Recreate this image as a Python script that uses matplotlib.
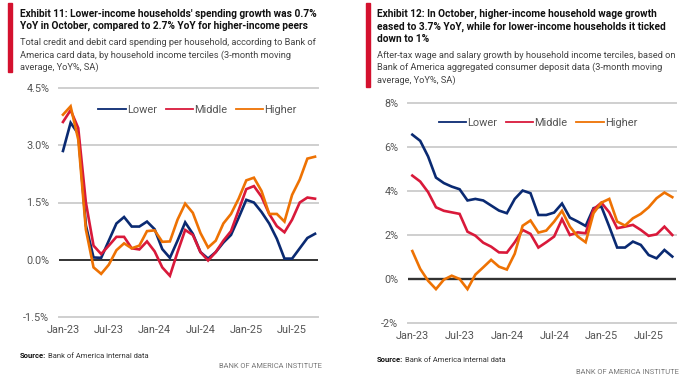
import matplotlib
matplotlib.use("Agg")
import matplotlib.pyplot as plt
from matplotlib.lines import Line2D
from matplotlib.patches import Rectangle

plt.rcParams['font.family'] = ['Roboto', 'DejaVu Sans']

# months Jan-23 .. Oct-25 (34 points)
months = list(range(34))
tick_pos = [0, 6, 12, 18, 24, 30]
tick_labels = ["Jan-23", "Jul-23", "Jan-24", "Jul-24", "Jan-25", "Jul-25"]

# Exhibit 11: card spending growth, YoY %
spend_lower = [2.85, 3.59, 3.30, 0.90, 0.06, 0.05, 0.50, 0.95, 1.12, 0.87, 0.87, 1.00,
               0.80, 0.28, 0.05, 0.50, 0.98, 0.68, 0.20, 0.03, 0.20, 0.45, 0.65, 1.10,
               1.57, 1.50, 1.25, 0.95, 0.55, 0.03, 0.03, 0.30, 0.57, 0.68]
spend_middle = [3.61, 3.92, 3.45, 1.50, 0.37, 0.15, 0.37, 0.60, 0.60, 0.30, 0.27, 0.48,
                0.22, -0.20, -0.42, 0.20, 0.78, 0.65, 0.20, -0.02, 0.20, 0.50, 0.75, 1.30,
                1.85, 1.93, 1.65, 1.20, 0.88, 0.72, 1.05, 1.50, 1.63, 1.60]
spend_higher = [3.80, 4.02, 3.15, 0.79, -0.20, -0.37, -0.13, 0.25, 0.43, 0.30, 0.37, 0.75,
                0.77, 0.47, 0.48, 1.05, 1.47, 1.23, 0.70, 0.32, 0.50, 0.95, 1.20, 1.60,
                2.08, 2.15, 1.80, 1.20, 1.20, 1.00, 1.70, 2.10, 2.65, 2.70]

# Exhibit 12: after-tax wage and salary growth, YoY %
wage_lower = [6.56, 6.28, 5.57, 4.61, 4.36, 4.20, 4.08, 3.57, 3.64, 3.57, 3.34, 3.11,
              2.99, 3.64, 4.02, 3.90, 2.91, 2.91, 3.02, 3.43, 2.79, 2.61, 2.41, 3.22,
              3.29, 2.38, 1.43, 1.43, 1.70, 1.55, 1.09, 0.94, 1.32, 1.02]
wage_middle = [4.70, 4.43, 3.95, 3.26, 3.10, 3.03, 2.96, 2.15, 1.97, 1.65, 1.47, 1.21,
               1.20, 1.67, 2.23, 2.05, 1.43, 1.67, 1.93, 2.72, 2.00, 2.12, 2.08, 3.17,
               3.47, 3.03, 2.31, 2.38, 2.46, 2.23, 1.96, 2.03, 2.38, 2.00]
wage_higher = [1.27, 0.46, -0.08, -0.46, -0.03, 0.15, 0.00, -0.46, 0.20, 0.53, 0.87, 0.56,
               0.43, 1.15, 2.42, 2.66, 2.11, 2.20, 2.61, 3.10, 2.38, 1.93, 1.67, 2.99,
               3.47, 3.64, 2.61, 2.43, 2.76, 2.96, 3.26, 3.67, 3.93, 3.72]

NAVY = "#0a2a72"
RED = "#d9193a"
ORANGE = "#ee7203"
GRID = "#cfcfcf"
TXT = "#555555"

W, H = 688, 378
fig = plt.figure(figsize=(W / 100, H / 100), dpi=100)


def box(x0, y0, x1, y1):
    # pixel box (top-left origin) -> figure fraction rect
    return [x0 / W, 1 - y1 / H, (x1 - x0) / W, (y1 - y0) / H]


def fx(x):
    return x / W


def fy(y):
    return 1 - y / H


def header(xbar, ybar_end, xtxt, title, title_y, sub, sub_y):
    fig.patches.append(Rectangle((fx(xbar), fy(ybar_end)), 4 / W, (ybar_end - 3) / H,
                                 transform=fig.transFigure, color="#d4112e"))
    fig.text(fx(xtxt), fy(title_y), title, fontsize=7.3, fontweight="bold",
             color="#111111", va="center", ha="left", linespacing=1.32)
    fig.text(fx(xtxt), fy(sub_y), sub, fontsize=6.65, color="#444444",
             va="center", ha="left", linespacing=1.38)


def panel(rect, xlim, yticks, ylabels, series, legend_xy, zero_col, zero_lw):
    ax = fig.add_axes(rect)
    ax.set_xlim(*xlim)
    ax.set_ylim(yticks[0], yticks[-1])
    for t in yticks:
        if t == 0:
            continue
        ax.axhline(t, color=GRID, lw=1.4, zorder=0, clip_on=False)
    for vals, col in series:
        ax.plot(months, vals, color=col, lw=1.9, solid_joinstyle="miter", zorder=3)
    ax.axhline(0, color=zero_col, lw=zero_lw, zorder=2)
    ax.set_yticks(yticks)
    ax.set_yticklabels(ylabels)
    ax.set_xticks(tick_pos)
    ax.set_xticklabels(tick_labels)
    ax.tick_params(length=0, labelsize=7.8, colors=TXT, pad=6)
    ax.tick_params(axis="y", pad=7)
    for s in ax.spines.values():
        s.set_visible(False)
    ax.patch.set_alpha(0)
    handles = [Line2D([], [], color=c, lw=1.3) for _, c in series]
    ax.legend(handles, ["Lower", "Middle", "Higher"], loc="center", ncol=3,
              bbox_to_anchor=legend_xy, frameon=False, fontsize=7.9,
              handlelength=2.5, handletextpad=0.1, columnspacing=0.8,
              labelcolor=TXT, borderpad=0)
    return ax


header(8, 72, 20,
       "Exhibit 11: Lower-income households' spending growth was 0.7%\n"
       "YoY in October, compared to 2.7% YoY for higher-income peers", 20,
       "Total credit and debit card spending per household, according to Bank of\n"
       "America card data, by household income terciles (3-month moving\n"
       "average, YoY%, SA)", 55)

header(366, 87, 377,
       "Exhibit 12: In October, higher-income household wage growth\n"
       "eased to 3.7% YoY, while for lower-income households it ticked\n"
       "down to 1%", 26.5,
       "After-tax wage and salary growth by household income terciles, based on\n"
       "Bank of America aggregated consumer deposit data (3-month moving\n"
       "average, YoY%, SA)", 68)

panel(box(59, 88, 318, 317), (-0.52, 33.39), [-1.5, 0, 1.5, 3.0, 4.5],
      ["-1.5%", "0.0%", "1.5%", "3.0%", "4.5%"],
      [(spend_lower, NAVY), (spend_middle, RED), (spend_higher, ORANGE)],
      (0.535, 0.905), "#111111", 1.2)

panel(box(408, 103, 676, 323), (-0.55, 33.47), [-2, 0, 2, 4, 6, 8],
      ["-2%", "0%", "2%", "4%", "6%", "8%"],
      [(wage_lower, NAVY), (wage_middle, RED), (wage_higher, ORANGE)],
      (0.485, 0.91), "#333333", 1.7)

for xs, ys, xb, yb in [(20, 356, 322, 367), (377, 360, 679, 372)]:
    src = fig.text(fx(xs), fy(ys), "Source:", fontsize=5.5, fontweight="bold",
                   color="#111111", va="center", ha="left")
    fig.add_artist(plt.Annotation("Bank of America internal data", xy=(1, 0.5),
                                  xycoords=src, xytext=(1, 0), textcoords="offset points",
                                  fontsize=5.5, color="#333333", va="center", ha="left"))
    fig.text(fx(xb), fy(yb), "BANK OF AMERICA INSTITUTE", fontsize=5.4, color="#777777",
             va="center", ha="right")

fig.savefig("out.png", dpi=100)
